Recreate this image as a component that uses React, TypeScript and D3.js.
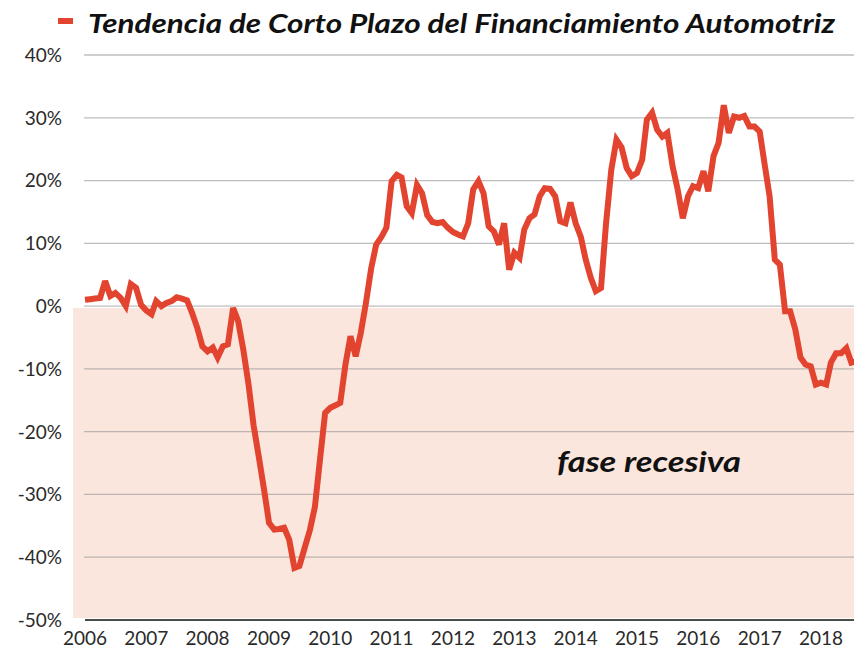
import React from 'react';
import * as d3 from 'd3';

const yearLabels = ['2006', '2007', '2008', '2009', '2010', '2011', '2012', '2013', '2014', '2015', '2016', '2017', '2018'];
const yTicks = [40, 30, 20, 10, 0, -10, -20, -30, -40, -50];
const seriesName = 'Tendencia de Corto Plazo del Financiamiento Automotriz';
const zoneLabel = 'fase recesiva';

// monthly values (%), Jan of each year onward
const values2006 = [1.0, 1.1, 1.2, 1.3, 4.0, 1.6, 2.1, 1.3, 0.0, 3.5, 2.9, 0.2];
const values2007 = [-0.7, -1.3, 0.8, 0.0, 0.5, 0.8, 1.4, 1.2, 0.9, -1.1, -3.5, -6.4];
const values2008 = [-7.2, -6.6, -8.2, -6.4, -6.1, -0.3, -2.4, -7.0, -12.5, -19.0, -24.0, -29.0];
const values2009 = [-34.5, -35.6, -35.5, -35.3, -37.2, -41.7, -41.4, -38.5, -35.7, -32.0, -24.3, -17.0];
const values2010 = [-16.2, -15.8, -15.4, -9.3, -4.8, -8.0, -4.3, 0.5, 6.0, 9.8, 11.0, 12.5];
const values2011 = [19.9, 20.9, 20.5, 15.9, 14.8, 19.3, 18.0, 14.5, 13.4, 13.2, 13.4, 12.5];
const values2012 = [11.8, 11.4, 11.1, 13.2, 18.6, 19.9, 18.0, 12.7, 11.9, 9.8, 13.2, 5.8];
const values2013 = [8.5, 7.7, 12.2, 14.0, 14.6, 17.5, 18.8, 18.7, 17.5, 13.5, 13.2, 16.5];
const values2014 = [13.2, 11.0, 7.5, 4.5, 2.4, 2.9, 13.2, 21.7, 26.5, 25.3, 22.0, 20.7];
const values2015 = [21.2, 23.3, 29.7, 30.8, 28.1, 27.0, 27.6, 22.3, 18.5, 14.0, 17.5, 19.1];
const values2016 = [18.8, 21.5, 18.3, 23.9, 26.0, 32.0, 27.6, 30.2, 30.0, 30.3, 28.6, 28.6];
const values2017 = [27.8, 22.3, 17.5, 7.4, 6.6, -0.8, -0.8, -3.7, -8.2, -9.3, -9.6, -12.5];
const values2018 = [-12.2, -12.5, -9.0, -7.5, -7.5, -6.7, -9.0, -8.8];

const allValues = [
  ...values2006, ...values2007, ...values2008, ...values2009, ...values2010,
  ...values2011, ...values2012, ...values2013, ...values2014, ...values2015,
  ...values2016, ...values2017, ...values2018,
];

const W = 854;
const H = 651;

export default function App() {
  const x = d3.scaleTime()
    .domain([new Date(2006, 0, 1), new Date(2018, 0, 1)])
    .range([85, 821]);
  const y = d3.scaleLinear().domain([-50, 40]).range([620, 55]);

  const data = allValues.map((v, i) => ({ date: d3.timeMonth.offset(new Date(2006, 0, 1), i), v }));
  const line = d3.line<{ date: Date; v: number }>()
    .x(d => x(d.date))
    .y(d => y(d.v));

  const y0 = y(0);
  const labelFont = 'Lato, "Open Sans", sans-serif';

  return (
    <svg width={W} height={H} style={{ position: 'absolute', left: 0, top: 0, background: '#fff' }}>
      <rect x={73} y={y0 + 2} width={W - 73} height={618 - (y0 + 2)} fill="#fae6dd" />
      {yTicks.filter(t => t !== -50).map(t => (
        <line key={t} x1={84} x2={W} y1={y(t)} y2={y(t)} stroke="#9a9a9a" strokeOpacity={0.65} strokeWidth={1.3} />
      ))}
      <line x1={85} x2={W} y1={y(-50)} y2={y(-50)} stroke="#111" strokeWidth={1.6} />
      {yTicks.map(t => (
        <text key={t} x={62} y={y(t)} dy="0.36em" textAnchor="end" fontFamily={labelFont} fontSize={19} fill="#2a2a2a">
          {`${t}%`}
        </text>
      ))}
      {yearLabels.map(yr => (
        <text key={yr} x={x(new Date(+yr, 0, 1))} y={645} textAnchor="middle" fontFamily={labelFont} fontSize={19} fill="#2a2a2a">
          {yr}
        </text>
      ))}
      <path d={line(data) || ''} fill="none" stroke="#e2442f" strokeWidth={6} strokeLinejoin="miter" strokeMiterlimit={3} />
      <rect x={58} y={18} width={15} height={6} fill="#e2442f" />
      <text x={88} y={33} fontFamily={labelFont} fontStyle="italic" fontWeight={700} fontSize={26} fill="#111"
        textLength={747} lengthAdjust="spacingAndGlyphs">
        {seriesName}
      </text>
      <text x={557} y={472} fontFamily={labelFont} fontStyle="italic" fontWeight={700} fontSize={28} fill="#111"
        textLength={184} lengthAdjust="spacingAndGlyphs">
        {zoneLabel}
      </text>
    </svg>
  );
}
